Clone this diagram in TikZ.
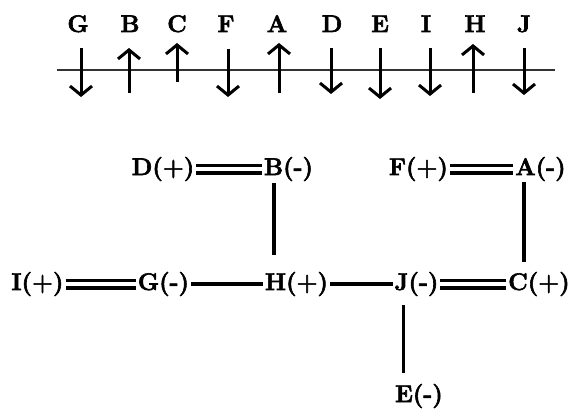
\documentclass[tikz,border=0pt]{standalone}
\usepackage{fontspec}
\setmainfont{Latin Modern Roman}[BoldFeatures={FakeBold=2.5}]
\usetikzlibrary{arrows.meta}
\begin{document}
\begin{tikzpicture}[x=1pt,y=-1pt,
  lab/.style={font=\fontsize{24}{28}\selectfont\bfseries, inner xsep=2pt, inner ysep=0pt, outer sep=0pt, anchor=base},
  toplab/.style={font=\fontsize{24}{28}\selectfont\bfseries, inner sep=0pt, anchor=base},
  arr/.style={line width=3pt, -{Straight Barb[length=9pt,width=22pt]}},
  single/.style={line width=3.5pt},
  dbl/.style={double, double distance=4pt, line width=3.5pt}]
\useasboundingbox (0,0) rectangle (575,409);
% top row of letters
\foreach \n/\x in {G/78,B/130,C/177,F/226,A/277,D/332,E/380,I/426,H/475,J/524}
  \node[toplab] (t\n) at (\x,32) {\n};
% axis line
\coordinate (ax0) at (57,70);
\coordinate (ax1) at (555,70);
\draw[line width=1.5pt, black!80] (ax0) -- (ax1);
% arrows
\draw[arr] (81,48) -- (81,97);
\draw[arr] (129,93) -- (129,48);
\draw[arr] (177,82) -- (177,43);
\draw[arr] (228,49) -- (228,97);
\draw[arr] (279,93) -- (279,43);
\draw[arr] (331,48) -- (331,94);
\draw[arr] (380,48) -- (380,99);
\draw[arr] (430,48) -- (430,96);
\draw[arr] (473,93) -- (473,44);
\draw[arr] (524,48) -- (524,95);
% lower diagram
\node[lab] (D) at (163,175) {D(+)};
\node[lab] (B) at (288.5,175) {B(-)};
\node[lab] (F) at (418.5,175) {F(+)};
\node[lab] (A) at (540.5,175) {A(-)};
\node[lab] (I) at (37.5,290) {I(+)};
\node[lab] (G) at (163.5,290) {G(-)};
\node[lab] (H) at (296.5,290) {H(+)};
\node[lab] (J) at (416.5,290) {J(-)};
\node[lab] (C) at (539,290) {C(+)};
\node[lab] (E) at (419,402) {E(-)};
\draw[dbl] (D) -- (B);
\draw[dbl] (F) -- (A);
\draw[dbl] (I) -- (G);
\draw[dbl] (J) -- (C);
\draw[single] (G) -- (H);
\draw[single] (H) -- (J);
\coordinate (bh) at ([xshift=12pt,yshift=-2pt]B.south west);
\draw[single, shorten >=17pt] (bh) -- (bh |- H.north);
\coordinate (ac) at ([xshift=10.5pt,yshift=-1pt]A.south west);
\draw[single, shorten >=10pt] (ac) -- (ac |- C.north);
\coordinate (je) at ([xshift=11pt,yshift=-9pt]J.south west);
\draw[single, shorten >=11pt] (je) -- (je |- E.north);
\end{tikzpicture}
\end{document}
